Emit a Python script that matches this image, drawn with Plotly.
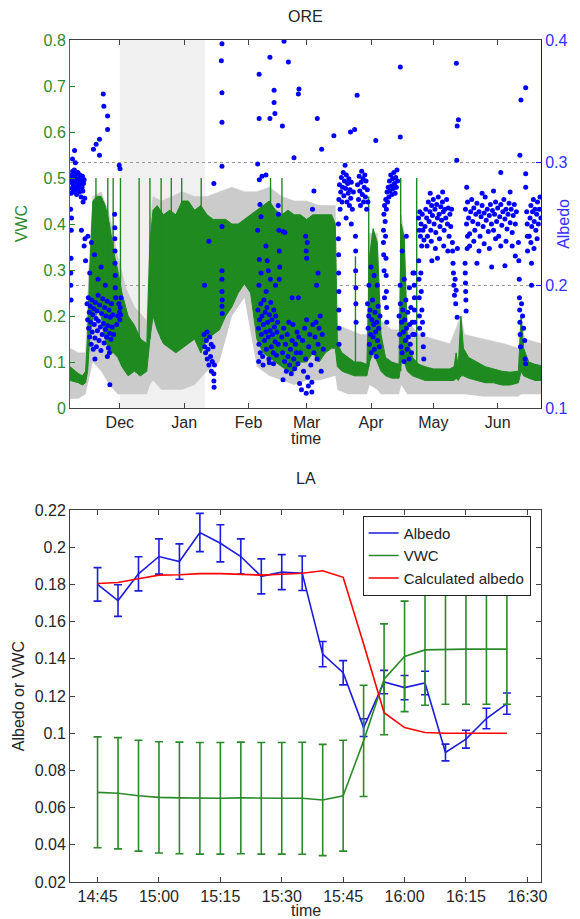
import pandas as pd
import plotly.graph_objects as go

BASE = pd.Timestamp("2012-11-01")

# ---------------- ORE panel (days counted from 1 Nov 2012) ----------------
# soil moisture (VWC) envelope of the dense green trace: (day, low, high)
vwc_env = [
    (6, 0.06, 0.09), (8, 0.058, 0.082), (10, 0.055, 0.075), (12, 0.05, 0.07), (13.5, 0.055, 0.08),
    (14.5, 0.08, 0.16), (15.5, 0.15, 0.3), (17, 0.2, 0.45), (19, 0.22, 0.46), (21, 0.2, 0.46),
    (23, 0.15, 0.44), (25, 0.12, 0.40), (27, 0.12, 0.34), (29, 0.11, 0.3), (31, 0.09, 0.25),
    (34, 0.07, 0.2), (37, 0.08, 0.18), (40, 0.07, 0.15), (43, 0.08, 0.14), (44.5, 0.15, 0.36),
    (46, 0.2, 0.43), (48, 0.17, 0.44), (51, 0.14, 0.42), (54, 0.13, 0.43), (57, 0.12, 0.42),
    (60, 0.13, 0.45), (63, 0.14, 0.45), (66, 0.15, 0.43), (69, 0.12, 0.44), (72, 0.15, 0.42),
    (75, 0.16, 0.41), (78, 0.17, 0.41), (81, 0.2, 0.41), (84, 0.22, 0.40), (87, 0.25, 0.40),
    (90, 0.27, 0.41), (93, 0.25, 0.42), (96, 0.15, 0.43), (99, 0.12, 0.44), (102, 0.11, 0.45),
    (105, 0.1, 0.43), (108, 0.09, 0.42), (111, 0.08, 0.43), (114, 0.08, 0.42), (117, 0.1, 0.42),
    (120, 0.1, 0.41), (123, 0.12, 0.42), (126, 0.1, 0.42), (129, 0.12, 0.42), (132, 0.13, 0.42),
    (133.8, 0.13, 0.40), (134.8, 0.09, 0.14), (137, 0.08, 0.12), (140, 0.075, 0.11), (143, 0.07, 0.1),
    (146, 0.07, 0.1), (149, 0.07, 0.095), (150.3, 0.1, 0.33), (152, 0.12, 0.39), (154, 0.1, 0.36),
    (155.8, 0.08, 0.16), (158, 0.07, 0.11), (161, 0.065, 0.1), (164.5, 0.065, 0.095), (165.5, 0.1, 0.4),
    (167, 0.1, 0.37), (168.5, 0.08, 0.15), (171, 0.07, 0.11), (174, 0.065, 0.095), (177, 0.06, 0.09),
    (181, 0.06, 0.085), (185, 0.06, 0.085), (189, 0.06, 0.085), (191, 0.06, 0.09), (192, 0.065, 0.12),
    (193, 0.06, 0.09), (194.3, 0.07, 0.2), (195.5, 0.07, 0.13), (198, 0.065, 0.11), (202, 0.06, 0.1),
    (206, 0.055, 0.09), (210, 0.055, 0.085), (214, 0.05, 0.08), (218, 0.05, 0.078), (222, 0.055, 0.08),
    (223.3, 0.08, 0.2), (224.5, 0.07, 0.13), (227, 0.065, 0.1), (230, 0.06, 0.095), (233, 0.06, 0.092),
]

# grey uncertainty band behind the VWC trace: (day, low, high)
gray_env = [
    (6, 0.02, 0.13), (10, 0.02, 0.12), (13.5, 0.03, 0.12), (15, 0.06, 0.3), (17, 0.1, 0.46),
    (21, 0.08, 0.47), (25, 0.05, 0.42), (29, 0.03, 0.33), (33, 0.03, 0.26), (37, 0.03, 0.22),
    (43, 0.03, 0.19), (44.5, 0.05, 0.4), (46, 0.06, 0.46), (50, 0.04, 0.45), (55, 0.04, 0.46),
    (60, 0.04, 0.47), (66, 0.05, 0.46), (72, 0.08, 0.46), (78, 0.1, 0.47), (84, 0.2, 0.48),
    (90, 0.24, 0.47), (96, 0.09, 0.47), (102, 0.07, 0.48), (108, 0.06, 0.46), (114, 0.05, 0.45),
    (120, 0.06, 0.45), (126, 0.06, 0.44), (133.8, 0.07, 0.44), (134.8, 0.04, 0.18), (140, 0.03, 0.17),
    (146, 0.03, 0.16), (149, 0.03, 0.16), (150.3, 0.05, 0.38), (154, 0.04, 0.38), (155.8, 0.03, 0.19),
    (161, 0.03, 0.17), (164.5, 0.03, 0.17), (165.5, 0.05, 0.42), (167, 0.04, 0.38), (168.5, 0.03, 0.19),
    (174, 0.03, 0.16), (181, 0.03, 0.15), (189, 0.03, 0.14), (194.3, 0.03, 0.2), (196, 0.03, 0.16),
    (205, 0.025, 0.15), (215, 0.025, 0.14), (222, 0.025, 0.13), (223.3, 0.03, 0.2), (225, 0.03, 0.15),
    (233, 0.03, 0.14),
]

# isolated VWC spikes
spike_day = [18.5, 24.2, 26.8, 30.3, 39.3, 44.5, 49.9, 54.8, 59.8, 69.2, 102.6, 108.1, 143.5, 149.9, 165.3, 173.0]
spike_base = [0.2, 0.15, 0.12, 0.1, 0.07, 0.15, 0.15, 0.13, 0.13, 0.12, 0.11, 0.09, 0.07, 0.09, 0.08, 0.07]
spike_top = [0.5, 0.5, 0.5, 0.5, 0.5, 0.5, 0.5, 0.5, 0.5, 0.5, 0.5, 0.5, 0.33, 0.46, 0.5, 0.5]

# albedo samples (day, albedo)
alb_nov = [
    (6.3, 0.262), (6.5, 0.275), (6.6, 0.284), (6.8, 0.290), (7.0, 0.279), (7.1, 0.287), (7.3, 0.293),
    (7.5, 0.282), (7.6, 0.276), (7.8, 0.289), (8.0, 0.285), (8.1, 0.294), (8.3, 0.280), (8.5, 0.288),
    (8.7, 0.278), (8.9, 0.291), (9.0, 0.284), (9.2, 0.274), (9.4, 0.287), (9.6, 0.281), (9.8, 0.292),
    (10.0, 0.279), (10.2, 0.286), (10.4, 0.283), (10.6, 0.276), (10.8, 0.290), (11.0, 0.282),
    (11.2, 0.287), (11.4, 0.272), (11.6, 0.285), (11.8, 0.280), (12.0, 0.289), (12.2, 0.277),
    (12.5, 0.283), (12.8, 0.286), (13.1, 0.271), (6.4, 0.210), (6.4, 0.200), (6.5, 0.188),
    (6.5, 0.222), (6.6, 0.245), (6.7, 0.255), (8.6, 0.300), (7.2, 0.303), (12.3, 0.268),
    (11.5, 0.245), (13.2, 0.238), (8.2, 0.310), (12.8, 0.232), (13.5, 0.220), (14.6, 0.240),
]
alb_nov_low = [
    (14.2, 0.185), (14.5, 0.172), (14.8, 0.19), (15.0, 0.165), (15.3, 0.178), (15.5, 0.158),
    (15.8, 0.183), (16.0, 0.17), (16.2, 0.152), (16.5, 0.188), (16.7, 0.162), (17.0, 0.176),
    (17.2, 0.148), (17.5, 0.181), (17.7, 0.168), (18.0, 0.157), (18.2, 0.186), (18.5, 0.173),
    (18.7, 0.15), (19.0, 0.179), (19.2, 0.163), (19.5, 0.192), (19.7, 0.171), (20.0, 0.155),
    (20.3, 0.184), (20.6, 0.166), (20.9, 0.147), (21.2, 0.177), (21.5, 0.16), (21.8, 0.189),
    (22.1, 0.169), (22.4, 0.153), (22.7, 0.182), (23.0, 0.164), (23.3, 0.175), (23.6, 0.158),
    (23.9, 0.187), (24.2, 0.167), (24.5, 0.149), (24.8, 0.18), (25.1, 0.161), (25.4, 0.174),
    (25.7, 0.156), (26.0, 0.185), (26.3, 0.166), (26.6, 0.176), (27.0, 0.16), (15.5, 0.21),
    (17.8, 0.225), (19.5, 0.205), (21.0, 0.215), (16.3, 0.235), (23.0, 0.2), (25.2, 0.119),
    (25.0, 0.145), (24.0, 0.142), (18.0, 0.14), (17.3, 0.311), (18.6, 0.315), (20.2, 0.319),
    (22.0, 0.356), (24.1, 0.338), (22.3, 0.346), (24.1, 0.327), (20.2, 0.306),
    (27.5, 0.258), (27.6, 0.247), (27.6, 0.238), (27.7, 0.228), (27.7, 0.218), (27.8, 0.208),
    (27.8, 0.198), (28.0, 0.19), (29.5, 0.185), (29.8, 0.178), (30.0, 0.172), (30.2, 0.182),
    (30.4, 0.176), (30.5, 0.19), (29.7, 0.298), (30.1, 0.295), (28.5, 0.168), (29.0, 0.175),
]
alb_jan = [
    (70.5, 0.16), (70.9, 0.15), (71.3, 0.145), (71.7, 0.155), (72.1, 0.14), (72.5, 0.148),
    (72.9, 0.135), (73.3, 0.158), (73.7, 0.142), (74.1, 0.13), (74.5, 0.138), (74.9, 0.15),
    (75.3, 0.128), (75.6, 0.135), (72.0, 0.162), (74.0, 0.152), (75.3, 0.122), (75.4, 0.117),
    (70.8, 0.2), (72.9, 0.236), (75.3, 0.283), (79.2, 0.397), (78.9, 0.383), (79.2, 0.357),
    (79.2, 0.333), (79.2, 0.297), (79.2, 0.248), (79.2, 0.212), (79.2, 0.205), (79.2, 0.195),
    (79.3, 0.188), (79.2, 0.183), (79.3, 0.177),
]
alb_feb = [
    (96.5, 0.18), (96.8, 0.165), (97.0, 0.152), (97.3, 0.172), (97.6, 0.145), (97.9, 0.185),
    (98.2, 0.16), (98.5, 0.175), (98.8, 0.142), (99.1, 0.168), (99.4, 0.188), (99.7, 0.155),
    (100.0, 0.178), (100.3, 0.162), (100.6, 0.148), (100.9, 0.182), (101.2, 0.17), (101.5, 0.158),
    (101.8, 0.14), (102.1, 0.176), (102.4, 0.163), (102.7, 0.186), (103.0, 0.15), (103.3, 0.172),
    (103.6, 0.16), (103.9, 0.145), (104.2, 0.18), (104.5, 0.166), (104.8, 0.154), (105.1, 0.175),
    (105.4, 0.143), (105.7, 0.162), (106.0, 0.17), (106.3, 0.152), (96.9, 0.138), (99.0, 0.135),
    (102.0, 0.137), (104.0, 0.136), (97.0, 0.2), (98.0, 0.21), (100.5, 0.195), (102.5, 0.205),
    (105.0, 0.2), (96.4, 0.245), (97.2, 0.221), (97.5, 0.266), (98.0, 0.256), (100.4, 0.232),
    (101.0, 0.22), (101.5, 0.212), (106.3, 0.265), (106.4, 0.258), (106.6, 0.245), (106.8, 0.228),
    (107.0, 0.215), (106.8, 0.205), (96.4, 0.299), (97.2, 0.286), (98.5, 0.289), (100.4, 0.29),
    (97.1, 0.372), (97.1, 0.336), (102.3, 0.386), (102.3, 0.336), (104.3, 0.359), (104.3, 0.349),
    (104.7, 0.34), (108.3, 0.33), (109.1, 0.399), (111.2, 0.382), (116.0, 0.356), (113.9, 0.304),
]
alb_mar = [
    (108.0, 0.158), (108.4, 0.145), (108.6, 0.123), (109.0, 0.165), (109.4, 0.138), (109.8, 0.152),
    (110.2, 0.13), (110.6, 0.16), (111.0, 0.142), (111.4, 0.17), (111.8, 0.135), (112.2, 0.148),
    (112.6, 0.128), (113.0, 0.155), (113.4, 0.168), (113.8, 0.14), (114.2, 0.132), (114.6, 0.152),
    (115.0, 0.145), (115.4, 0.162), (115.8, 0.136), (116.2, 0.158), (116.6, 0.12), (117.0, 0.145),
    (117.5, 0.115), (118.0, 0.155), (118.5, 0.13), (119.0, 0.165), (119.5, 0.14), (120.0, 0.172),
    (120.5, 0.125), (121.0, 0.15), (121.5, 0.16), (122.0, 0.135), (122.5, 0.121), (123.0, 0.168),
    (123.5, 0.145), (124.0, 0.158), (124.5, 0.17), (125.0, 0.14), (125.5, 0.152), (126.0, 0.165),
    (126.5, 0.175), (127.0, 0.13), (127.5, 0.16), (128.0, 0.148), (119.8, 0.112), (120.8, 0.118),
    (122.5, 0.113), (119.5, 0.24), (119.8, 0.228), (120.0, 0.222), (120.3, 0.235), (108.7, 0.244),
    (109.5, 0.243), (124.8, 0.2), (125.5, 0.21), (116.0, 0.19), (113.0, 0.19), (116.3, 0.36),
    (125.1, 0.336), (127.2, 0.311), (123.5, 0.277), (122.8, 0.262), (133.1, 0.322),
]
alb_spring = [
    (135.5, 0.27), (135.8, 0.282), (136.1, 0.262), (136.4, 0.276), (136.7, 0.288), (137.0, 0.268),
    (137.3, 0.28), (137.6, 0.292), (137.9, 0.273), (138.2, 0.285), (138.5, 0.298), (138.8, 0.279),
    (139.1, 0.29), (139.4, 0.268), (139.7, 0.283), (140.0, 0.275), (140.3, 0.287), (140.6, 0.265),
    (140.9, 0.278), (141.2, 0.271), (141.5, 0.284), (142.0, 0.262), (142.5, 0.276), (144.5, 0.282),
    (145.0, 0.27), (145.3, 0.289), (145.6, 0.277), (145.9, 0.265), (146.2, 0.284), (146.5, 0.293),
    (146.8, 0.274), (147.1, 0.287), (147.4, 0.268), (147.7, 0.28), (148.0, 0.29), (148.3, 0.272),
    (148.6, 0.285), (148.9, 0.262), (149.2, 0.278), (149.5, 0.268), (135.3, 0.25), (135.3, 0.238),
    (135.4, 0.225), (135.4, 0.21), (135.5, 0.195), (135.5, 0.18), (135.6, 0.165), (135.6, 0.152),
    (143.5, 0.24), (143.6, 0.228), (143.6, 0.212), (143.7, 0.198), (143.7, 0.185), (143.8, 0.17),
    (141.5, 0.25), (139.0, 0.255), (141.1, 0.325), (143.1, 0.327), (144.3, 0.355),
    (149.3, 0.185), (149.6, 0.165), (149.9, 0.175), (150.2, 0.152), (150.5, 0.18), (150.8, 0.16),
    (151.1, 0.145), (151.4, 0.172), (151.7, 0.188), (152.0, 0.158), (152.3, 0.168), (152.6, 0.148),
    (152.9, 0.178), (153.2, 0.162), (153.5, 0.142), (153.8, 0.17), (154.1, 0.155), (154.4, 0.183),
    (154.7, 0.165), (155.0, 0.15), (155.3, 0.175), (150.0, 0.2), (152.5, 0.208), (154.0, 0.2),
    (151.0, 0.215), (153.3, 0.318),
]
alb_apr = [
    (157.2, 0.258), (157.5, 0.265), (157.8, 0.252), (158.1, 0.27), (158.4, 0.262), (158.7, 0.276),
    (159.0, 0.268), (159.3, 0.28), (159.6, 0.272), (159.9, 0.285), (160.2, 0.277), (160.5, 0.29),
    (160.8, 0.281), (161.1, 0.274), (161.4, 0.287), (161.7, 0.279), (162.0, 0.292), (162.3, 0.283),
    (162.6, 0.275), (162.9, 0.288), (163.2, 0.28), (163.5, 0.294), (163.8, 0.285), (157.0, 0.245),
    (157.0, 0.235), (157.1, 0.225), (158.0, 0.24), (158.2, 0.222), (158.3, 0.208), (158.4, 0.195),
    (158.5, 0.182), (158.6, 0.17), (157.3, 0.212), (157.5, 0.19), (165.1, 0.378), (165.1, 0.321),
    (164.5, 0.175), (164.8, 0.16), (165.1, 0.185), (165.4, 0.15), (165.7, 0.17), (166.0, 0.145),
    (166.3, 0.18), (166.6, 0.162), (166.9, 0.138), (167.2, 0.172), (167.5, 0.155), (167.8, 0.188),
    (168.1, 0.165), (168.4, 0.148), (168.7, 0.178), (169.0, 0.158), (169.3, 0.14), (169.6, 0.168),
    (169.9, 0.152), (170.2, 0.182), (170.5, 0.145), (170.8, 0.17), (171.1, 0.16), (165.0, 0.2),
    (167.0, 0.205), (169.5, 0.198), (171.2, 0.21), (166.0, 0.228), (168.0, 0.24),
    (171.8, 0.2), (171.9, 0.19), (171.9, 0.18), (172.0, 0.17), (172.0, 0.16), (171.8, 0.21),
    (173.9, 0.255), (174.2, 0.245), (174.5, 0.26), (174.8, 0.24), (175.1, 0.25), (175.4, 0.232),
    (175.7, 0.258), (176.0, 0.245), (176.5, 0.237), (174.0, 0.22), (174.1, 0.205), (174.2, 0.19),
    (174.3, 0.175), (174.4, 0.165), (175.0, 0.21), (175.2, 0.195), (175.5, 0.18), (175.8, 0.17),
    (176.0, 0.16), (176.2, 0.15), (176.4, 0.14),
]
alb_may = [
    (177.0, 0.248), (177.4, 0.262), (177.8, 0.255), (178.2, 0.24), (178.6, 0.268), (179.0, 0.252),
    (179.4, 0.26), (179.8, 0.245), (180.2, 0.265), (180.6, 0.257), (181.0, 0.27), (181.4, 0.25),
    (181.8, 0.262), (182.2, 0.243), (182.6, 0.266), (183.0, 0.255), (183.4, 0.272), (183.8, 0.258),
    (184.2, 0.248), (184.6, 0.264), (185.0, 0.253), (185.4, 0.268), (185.8, 0.26), (186.2, 0.245),
    (186.6, 0.262), (187.0, 0.255), (187.4, 0.27), (187.8, 0.25), (188.2, 0.263), (188.6, 0.24),
    (189.0, 0.258), (189.4, 0.248), (189.8, 0.262), (190.2, 0.235), (178.0, 0.232), (180.0, 0.236),
    (182.0, 0.23), (184.0, 0.238), (186.0, 0.232), (188.0, 0.228), (183.0, 0.222), (179.5, 0.275),
    (185.5, 0.276), (180.3, 0.22), (190.3, 0.228), (190.5, 0.218), (190.7, 0.21), (190.9, 0.2),
    (191.2, 0.192), (191.5, 0.205), (191.8, 0.185), (192.0, 0.196), (192.5, 0.174), (192.6, 0.23),
    (196.3, 0.218), (196.4, 0.21), (196.5, 0.202), (196.6, 0.195), (196.7, 0.188), (196.8, 0.179),
    (197.3, 0.23), (197.5, 0.24), (192.1, 0.381), (193.1, 0.335), (192.5, 0.33), (192.3, 0.302),
    (197.1, 0.28),
]
alb_jun = [
    (196.5, 0.262), (197.0, 0.25), (197.5, 0.268), (198.0, 0.255), (198.5, 0.242), (199.0, 0.26),
    (199.5, 0.27), (200.0, 0.252), (200.5, 0.263), (201.0, 0.245), (201.5, 0.258), (202.0, 0.267),
    (202.5, 0.25), (203.0, 0.26), (203.5, 0.24), (204.0, 0.256), (204.5, 0.265), (205.0, 0.248),
    (205.5, 0.259), (206.0, 0.272), (206.5, 0.253), (207.0, 0.262), (207.5, 0.244), (208.0, 0.257),
    (208.5, 0.266), (209.0, 0.25), (209.5, 0.261), (210.0, 0.245), (210.5, 0.258), (211.0, 0.268),
    (211.5, 0.252), (212.0, 0.263), (212.5, 0.24), (213.0, 0.256), (213.5, 0.266), (214.0, 0.249),
    (214.5, 0.26), (215.0, 0.27), (215.5, 0.254), (216.0, 0.262), (216.5, 0.246), (217.0, 0.258),
    (217.5, 0.267), (218.0, 0.251), (218.5, 0.262), (219.0, 0.243), (219.5, 0.257), (220.0, 0.266),
    (220.5, 0.25), (221.0, 0.26), (198.5, 0.232), (200.5, 0.236), (203.0, 0.228), (205.5, 0.234),
    (208.0, 0.23), (211.0, 0.238), (213.5, 0.232), (216.0, 0.236), (219.0, 0.232), (202.0, 0.218),
    (209.1, 0.215), (215.5, 0.216), (220.5, 0.224), (204.5, 0.275), (210.0, 0.277), (213.5, 0.292),
    (218.0, 0.276),
    (222.0, 0.235), (222.2, 0.22), (222.4, 0.205), (222.5, 0.19), (222.6, 0.18), (222.7, 0.17),
    (222.8, 0.16), (223.0, 0.15), (223.5, 0.185), (224.0, 0.175), (224.5, 0.165), (225.0, 0.155),
    (225.5, 0.136), (225.2, 0.14), (222.7, 0.306), (223.2, 0.351), (225.5, 0.361), (225.5, 0.291),
    (225.5, 0.28), (226.0, 0.26), (226.2, 0.25), (226.3, 0.24), (226.4, 0.228),
    (227.2, 0.24), (227.6, 0.255), (228.0, 0.265), (228.4, 0.248), (228.8, 0.26), (229.2, 0.27),
    (229.6, 0.252), (230.0, 0.262), (230.4, 0.245), (230.8, 0.258), (231.2, 0.268), (231.6, 0.25),
    (232.0, 0.262), (232.4, 0.272), (232.8, 0.255), (228.0, 0.235), (229.5, 0.23), (231.0, 0.238),
    (228.3, 0.218), (228.3, 0.2),
]
ore_month_ticks = ["2012-12-01", "2013-01-01", "2013-02-01", "2013-03-01", "2013-04-01", "2013-05-01", "2013-06-01"]
ore_month_labels = ["Dec", "Jan", "Feb", "Mar", "Apr", "May", "Jun"]
no_data_period = ("2012-12-01", "2013-01-11")

# ---------------- LA panel ----------------
la_time = ["14:45", "14:50", "14:55", "15:00", "15:05", "15:10", "15:15", "15:20", "15:25", "15:30", "15:35",
           "15:40", "15:45", "15:50", "15:55", "16:00", "16:05", "16:10", "16:15", "16:20", "16:25"]
la_albedo = [0.180, 0.1713, 0.1857, 0.195, 0.1923, 0.2079, 0.2021, 0.195, 0.1843, 0.1866, 0.186,
             0.1425, 0.1325, 0.103, 0.1275, 0.1245, 0.127, 0.0896, 0.0968, 0.1079, 0.1159]
la_albedo_err = [0.009, 0.0085, 0.0092, 0.0095, 0.0095, 0.0103, 0.01, 0.0095, 0.0094, 0.0094, 0.0093,
                 0.0068, 0.0065, 0.0048, 0.0063, 0.0065, 0.0063, 0.0045, 0.0048, 0.0055, 0.0057]
la_vwc = [0.0682, 0.0677, 0.0664, 0.0655, 0.0652, 0.065, 0.065, 0.0652, 0.065, 0.065, 0.065,
          0.0641, 0.0664, 0.0959, 0.129, 0.1413, 0.1448, 0.1452, 0.1452, 0.1452, 0.1452]
la_vwc_err = [0.0298, 0.0299, 0.0298, 0.0299, 0.030, 0.030, 0.030, 0.030, 0.030, 0.030, 0.0301,
              0.0299, 0.0298, 0.0299, 0.0298, 0.0297, 0.0298, 0.0296, 0.0296, 0.0296, 0.0296]
la_calc = [0.1805, 0.181, 0.183, 0.185, 0.1852, 0.1858, 0.1858, 0.1852, 0.185, 0.1855, 0.186,
           0.1873, 0.1838, 0.148, 0.111, 0.103, 0.1004, 0.1, 0.1, 0.1, 0.1]
la_ticks = ["14:45", "15:00", "15:15", "15:30", "15:45", "16:00", "16:15", "16:30"]

# ---------------- helpers ----------------
def days_to_dates(days):
    return [BASE + pd.Timedelta(days=float(d)) for d in days]

def hm(t):
    return "2013-01-01 " + t + ":00"

GREEN = "#1f8a1f"
BLUE = "#0000ff"
FONT = "Liberation Sans, Arial, sans-serif"
AXC = "#404040"

fig = go.Figure()

# grey band
gd = days_to_dates([e[0] for e in gray_env])
fig.add_trace(go.Scatter(x=gd, y=[e[1] for e in gray_env], mode="lines", line=dict(width=0, color="#c8c8c8"),
                         showlegend=False, xaxis="x", yaxis="y", hoverinfo="skip"))
fig.add_trace(go.Scatter(x=gd, y=[e[2] for e in gray_env], mode="lines", line=dict(width=0.5, color="#c8c8c8"),
                         fill="tonexty", fillcolor="#cbcbcb", showlegend=False, xaxis="x", yaxis="y", hoverinfo="skip"))

# green VWC band
vd = days_to_dates([e[0] for e in vwc_env])
fig.add_trace(go.Scatter(x=vd, y=[e[1] for e in vwc_env], mode="lines", line=dict(width=1, color=GREEN),
                         showlegend=False, xaxis="x", yaxis="y", hoverinfo="skip"))
fig.add_trace(go.Scatter(x=vd, y=[e[2] for e in vwc_env], mode="lines", line=dict(width=1, color=GREEN),
                         fill="tonexty", fillcolor=GREEN, showlegend=False, xaxis="x", yaxis="y", hoverinfo="skip"))

# spikes
sx, sy = [], []
for d, b, t in zip(spike_day, spike_base, spike_top):
    dt = BASE + pd.Timedelta(days=d)
    sx += [dt, dt, None]
    sy += [b, t, None]
fig.add_trace(go.Scatter(x=sx, y=sy, mode="lines", line=dict(width=1.4, color=GREEN),
                         showlegend=False, xaxis="x", yaxis="y", hoverinfo="skip"))

# albedo dots
all_alb = alb_nov + alb_nov_low + alb_jan + alb_feb + alb_mar + alb_spring + alb_apr + alb_may + alb_jun
fig.add_trace(go.Scatter(x=days_to_dates([p[0] for p in all_alb]), y=[p[1] for p in all_alb], mode="markers",
                         marker=dict(size=5, color=BLUE, line=dict(width=0)), showlegend=False,
                         xaxis="x", yaxis="y3"))

# LA panel
tx = [hm(t) for t in la_time]
fig.add_trace(go.Scatter(x=tx, y=la_albedo, mode="lines", name="Albedo", line=dict(color="#1c1cdc", width=1.6),
                         error_y=dict(type="data", array=la_albedo_err, color="#1c1cdc", thickness=1.6, width=4),
                         xaxis="x2", yaxis="y2"))
fig.add_trace(go.Scatter(x=tx, y=la_vwc, mode="lines", name="VWC", line=dict(color="#2a8a2a", width=1.6),
                         error_y=dict(type="data", array=la_vwc_err, color="#2a8a2a", thickness=1.6, width=4),
                         xaxis="x2", yaxis="y2"))
fig.add_trace(go.Scatter(x=tx, y=la_calc, mode="lines", name="Calculated albedo", line=dict(color="#ff0000", width=1.6),
                         xaxis="x2", yaxis="y2"))

top_dom = [0.5629, 1.0]
bot_dom = [0.0, 0.4418]
tickfont = dict(family=FONT, size=16, color="#262626")

# the page body adds an 8px margin, so the figure is 8px smaller and its margins compensate
fig.update_layout(
    width=572, height=911,
    margin=dict(l=62, r=37, t=32, b=37),
    paper_bgcolor="white", plot_bgcolor="white",
    font=dict(family=FONT, size=16, color="#262626"),
    xaxis=dict(domain=[0, 1], anchor="y", type="date",
               range=["2012-11-07", "2013-06-21 21:00"],
               tickvals=ore_month_ticks, ticktext=ore_month_labels,
               ticks="inside", ticklen=5, tickcolor=AXC, showline=True, linecolor=AXC, mirror="ticks",
               showgrid=False, zeroline=False, tickfont=tickfont),
    yaxis=dict(domain=top_dom, anchor="x", range=[0, 0.8], dtick=0.1, tick0=0,
               ticks="inside", ticklen=5, tickcolor=GREEN, showline=True, linecolor=GREEN,
               showgrid=False, zeroline=False, tickfont=dict(family=FONT, size=16, color="#2e8b2e")),
    yaxis3=dict(overlaying="y", anchor="x", side="right", range=[0.1, 0.4], dtick=0.1, tick0=0.1,
                ticks="inside", ticklen=5, tickcolor=BLUE, showline=True, linecolor=BLUE,
                showgrid=True, gridcolor="#999999", griddash="dot", gridwidth=1, zeroline=False,
                tickfont=dict(family=FONT, size=16, color="#3030ff")),
    xaxis2=dict(domain=[0, 1], anchor="y2", type="date",
                range=["2013-01-01 14:38:16", "2013-01-01 16:33:20"],
                tickvals=[hm(t) for t in la_ticks], ticktext=la_ticks,
                ticks="inside", ticklen=5, tickcolor=AXC, showline=True, linecolor=AXC, mirror="ticks",
                showgrid=False, zeroline=False, tickfont=tickfont),
    yaxis2=dict(domain=bot_dom, anchor="x2", range=[0.02, 0.22], dtick=0.02, tick0=0,
                ticks="inside", ticklen=5, tickcolor=AXC, showline=True, linecolor=AXC, mirror="ticks",
                showgrid=False, zeroline=False, tickfont=tickfont),
    legend=dict(x=0.978, xanchor="right", y=0.435, yanchor="top", bgcolor="white", traceorder="normal",
                bordercolor="#222222", borderwidth=1, font=dict(family=FONT, size=15, color="#222222"),
                tracegroupgap=0),
    shapes=[dict(type="rect", xref="x", yref="y domain", x0=no_data_period[0], x1=no_data_period[1],
                 y0=0, y1=1, fillcolor="#f0f0f0", line=dict(width=0), layer="below")],
    annotations=[
        dict(text="ORE", xref="paper", yref="paper", x=0.5, y=1.0285, yanchor="middle", showarrow=False,
             font=dict(size=16)),
        dict(text="time", xref="paper", yref="paper", x=0.5, y=0.5273, yanchor="middle", showarrow=False,
             font=dict(size=16)),
        dict(text="VWC", xref="paper", yref="paper", x=-0.1015, y=0.7815, xanchor="center", yanchor="middle",
             showarrow=False, textangle=-90, font=dict(size=16, color="#2e8b2e")),
        dict(text="Albedo", xref="paper", yref="paper", x=1.0486, y=0.7815, xanchor="center", yanchor="middle",
             showarrow=False, textangle=-90, font=dict(size=16, color="#3030ff")),
        dict(text="LA", xref="paper", yref="paper", x=0.5, y=0.4798, yanchor="middle", showarrow=False,
             font=dict(size=16)),
        dict(text="time", xref="paper", yref="paper", x=0.5, y=-0.0344, yanchor="middle", showarrow=False,
             font=dict(size=16)),
        dict(text="Albedo or VWC", xref="paper", yref="paper", x=-0.11, y=0.2209, xanchor="center",
             yanchor="middle", showarrow=False, textangle=-90, font=dict(size=16)),
    ],
)

fig.write_html("out.html")
